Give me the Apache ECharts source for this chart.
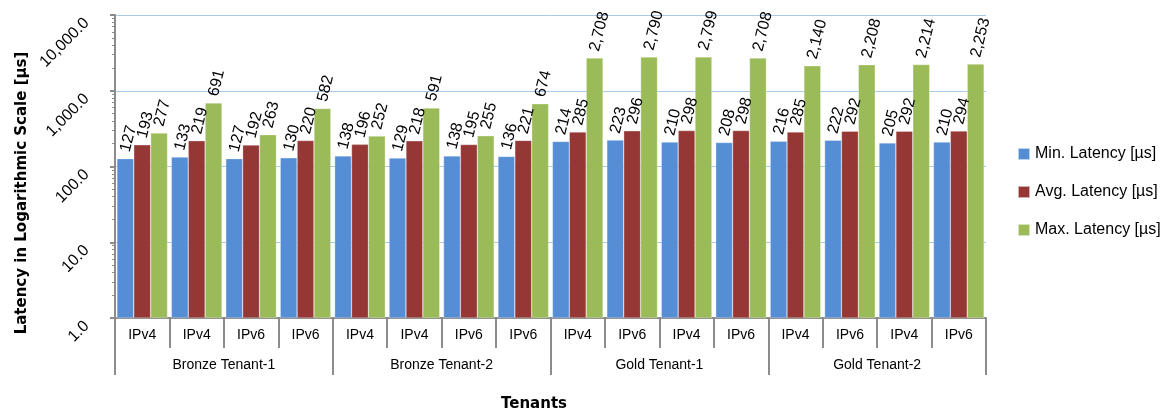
<!DOCTYPE html>
<html>
<head>
<meta charset="utf-8">
<script src="https://cdn.jsdelivr.net/npm/echarts@6/dist/echarts.min.js"></script>
<style>
  html, body { margin: 0; padding: 0; background: #fff; }
  #chart { width: 1162px; height: 413px; }
</style>
</head>
<body>
<div id="chart"></div>
<script>
// Protocol per measurement, tenant groups and latency series (µs)
const protocols = ['IPv4','IPv4','IPv6','IPv6','IPv4','IPv4','IPv6','IPv6','IPv4','IPv6','IPv4','IPv6','IPv4','IPv6','IPv4','IPv6'];
const tenants = ['Bronze Tenant-1','Bronze Tenant-2','Gold Tenant-1','Gold Tenant-2'];
const minLatency = [127,133,127,130,138,129,138,136,214,223,210,208,216,222,205,210];
const avgLatency = [193,219,192,220,196,218,195,221,285,296,298,298,285,292,292,294];
const maxLatency = [277,691,263,582,252,591,255,674,2708,2790,2799,2708,2140,2208,2214,2253];

const FONT = 'Liberation Sans';
const BOLD_FONT = 'DejaVu Sans';
const fmtInt = v => Math.round(v).toLocaleString('en-US');
const fmtAxis = v => v.toLocaleString('en-US', { minimumFractionDigits: 1, maximumFractionDigits: 1 });

function barSeries(name, data, color) {
  return {
    name, type: 'bar', data, xAxisIndex: 0,
    barGap: '0%', barCategoryGap: '7%',
    itemStyle: { color, borderColor: 'rgba(255,255,255,0.6)', borderWidth: 0.5 },
    label: {
      show: true, position: 'top', distance: 7, rotate: 76,
      align: 'left', verticalAlign: 'middle',
      fontFamily: FONT, fontSize: 16, color: '#000',
      formatter: p => fmtInt(p.value)
    }
  };
}

const chart = echarts.init(document.getElementById('chart'), null, { renderer: 'canvas' });
chart.setOption({
  animation: false,
  backgroundColor: '#fff',
  grid: { left: 115, right: 176, top: 15, bottom: 95 },
  legend: {
    orient: 'vertical', left: 1012, top: 141,
    itemWidth: 12, itemHeight: 12, itemGap: 22,
    icon: 'rect',
    textStyle: { fontFamily: FONT, fontSize: 16, color: '#000' },
    data: ['Min. Latency [µs]', 'Avg. Latency [µs]', 'Max. Latency [µs]']
  },
  xAxis: [
    {
      type: 'category', data: protocols, position: 'bottom',
      axisLine: { lineStyle: { color: '#8c8c8c', width: 2 } },
      axisTick: { show: true, length: 30, alignWithLabel: false, lineStyle: { color: '#8c8c8c', width: 2 } },
      axisLabel: { fontFamily: FONT, fontSize: 14, color: '#000', margin: 10 },
      splitLine: { show: false }
    },
    {
      type: 'category', data: tenants, position: 'bottom', offset: 30,
      axisLine: { show: false },
      axisTick: { show: true, length: 27, alignWithLabel: false, lineStyle: { color: '#8c8c8c', width: 2 } },
      axisLabel: { fontFamily: FONT, fontSize: 14, color: '#000', margin: 10 },
      splitLine: { show: false }
    }
  ],
  yAxis: {
    type: 'log', logBase: 10, min: 1, max: 10000,
    axisLine: { show: true, lineStyle: { color: '#8c8c8c', width: 2 } },
    axisTick: { show: true, length: 5, lineStyle: { color: '#8c8c8c', width: 2 } },
    minorTick: { show: true, splitNumber: 9, length: 3, lineStyle: { color: '#8c8c8c' } },
    axisLabel: {
      fontFamily: FONT, fontSize: 16, color: '#000', rotate: 45,
      margin: 34, verticalAlign: 'top', formatter: fmtAxis
    },
    splitLine: { show: true, lineStyle: { color: '#a9c8ea', width: 1 } }
  },
  graphic: [
    {
      type: 'text', x: 22, y: 193, rotation: Math.PI / 2,
      style: {
        text: 'Latency in Logarithmic Scale [µs]', fontFamily: BOLD_FONT, fontSize: 15,
        fontWeight: 'bold', fill: '#000', align: 'center', verticalAlign: 'middle'
      }
    },
    {
      type: 'text', x: 534, y: 404,
      style: {
        text: 'Tenants', fontFamily: BOLD_FONT, fontSize: 15, fontWeight: 'bold',
        fill: '#000', align: 'center', verticalAlign: 'middle'
      }
    }
  ],
  series: [
    barSeries('Min. Latency [µs]', minLatency, '#558ed5'),
    barSeries('Avg. Latency [µs]', avgLatency, '#953735'),
    barSeries('Max. Latency [µs]', maxLatency, '#9bbb59')
  ]
});
</script>
</body>
</html>
